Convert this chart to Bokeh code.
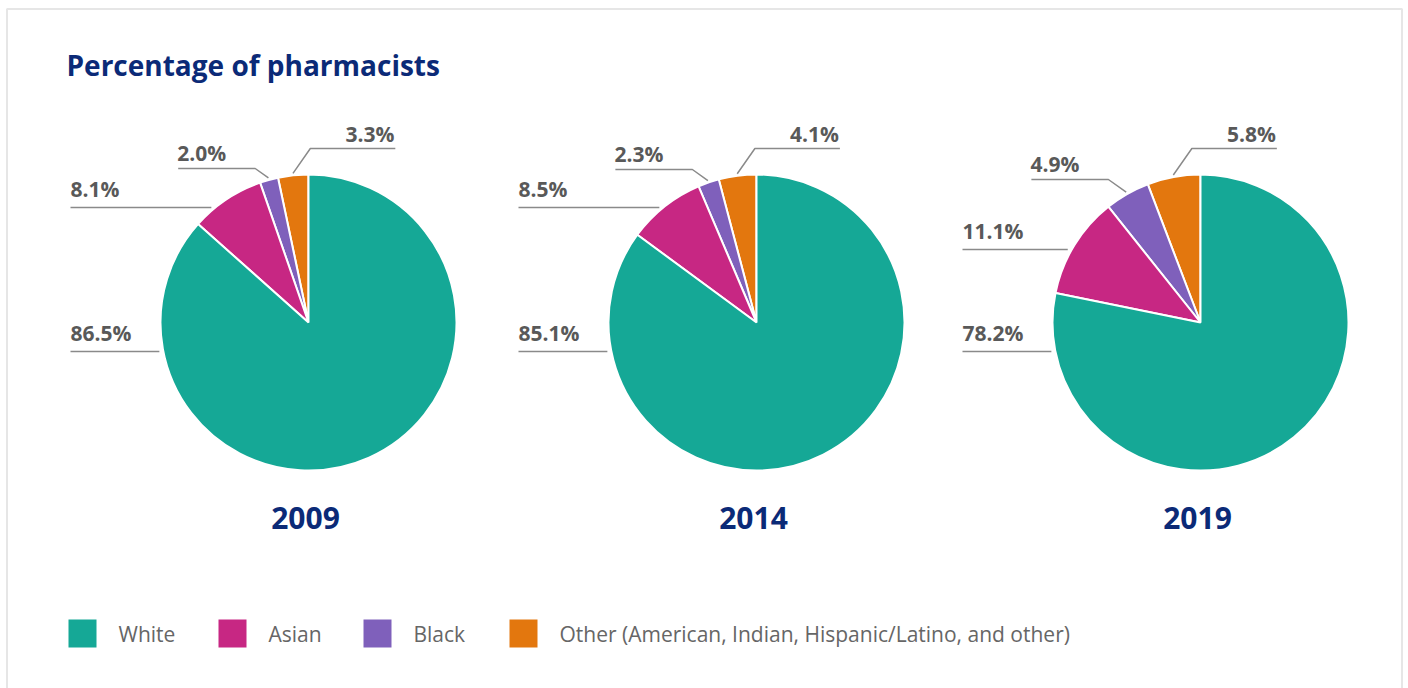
import math
from bokeh.plotting import figure
from bokeh.models import Range1d, ColumnDataSource
from bokeh.core.properties import value
from bokeh.embed import file_html
from bokeh.resources import INLINE

# ---------------- data ----------------
years = ["2009", "2014", "2019"]
categories = ["White", "Asian", "Black",
              "Other (American, Indian, Hispanic/Latino, and other)"]
white = [86.5, 85.1, 78.2]
asian = [8.1, 8.5, 11.1]
black = [2.0, 2.3, 4.9]
other = [3.3, 4.1, 5.8]
colors = {"White": "#15a896", "Asian": "#c72783", "Black": "#7f60bb", "Other": "#e3770e"}

# ---------------- layout ----------------
W, H = 1408, 688
FONT = "Open Sans"
NAVY = "#0b2a77"
LABEL_COLOR = "#595959"
LEADER = "#8a8a8a"
centers_x = [308, 756, 1200]
center_y = 322
R = 148
# y offsets (px, downwards from centre) of the label lines
line_y_other = [-174, -174, -174]
line_y_black = [-154, -153, -143]
line_y_asian = [-115, -115, -73]
line_y_white = [29, 29, 29]
left_x = -238
label_gap = 19   # distance from line up to the middle of the label text

def Y(py):
    return H - py

p = figure(width=W, height=H, x_range=Range1d(0, W), y_range=Range1d(0, H),
           output_backend="svg", toolbar_location=None, min_border=0,
           background_fill_color="white", border_fill_color="white")
p.axis.visible = False
p.grid.visible = False
p.outline_line_color = None

# card border
p.quad(left=[6.5], right=[1401.5], top=[Y(8.5)], bottom=[-10],
       fill_color=None, line_color="#e6e6e6", line_width=2)

# title
p.text(x=[66], y=[Y(64)], text=["Percentage of pharmacists"],
       text_font=value(FONT), text_font_style="bold", text_font_size="28px",
       text_color=NAVY, text_baseline="middle", text_align="left")

lx, ly = [], []
tx, ty, tt, ta = [], [], [], []

for i, yr in enumerate(years):
    cx = centers_x[i]
    vals = {"Other": other[i], "Black": black[i], "Asian": asian[i], "White": white[i]}
    order = ["Other", "Black", "Asian", "White"]
    total = sum(vals.values())
    start = math.pi / 2
    starts, ends, cols = [], [], []
    mids = {}
    for k in order:
        a = 2 * math.pi * vals[k] / total
        starts.append(start)
        ends.append(start + a)
        cols.append(colors[k])
        mids[k] = start + a / 2
        start += a
    src = ColumnDataSource(dict(x=[cx] * 4, y=[Y(center_y)] * 4,
                                s=starts, e=ends, c=cols))
    p.wedge(x="x", y="y", radius=R, start_angle="s", end_angle="e",
            direction="anticlock", fill_color="c", line_color="white",
            line_width=2, source=src)

    # Other: leader to the right
    m = mids["Other"]
    ax, ay = (R + 2) * math.cos(m), -(R + 2) * math.sin(m)
    lyo = line_y_other[i]
    ex = ax + 0.7 * (ay - lyo)
    lx.append([cx + ax, cx + ex, cx + ex + 85])
    ly.append([Y(center_y + ay), Y(center_y + lyo), Y(center_y + lyo)])
    tx.append(cx + ex + 84); ty.append(Y(center_y + lyo - 15))
    tt.append(f"{other[i]:.1f}%"); ta.append("right")

    # Black: leader to the left with elbow
    m = mids["Black"]
    ax, ay = (R + 2) * math.cos(m), -(R + 2) * math.sin(m)
    lyb = line_y_black[i]
    ex = ax - 1.4 * (ay - lyb)
    lx.append([cx + ax, cx + ex, cx + ex - 77])
    ly.append([Y(center_y + ay), Y(center_y + lyb), Y(center_y + lyb)])
    tx.append(cx + ex - 78); ty.append(Y(center_y + lyb - 16))
    tt.append(f"{black[i]:.1f}%"); ta.append("left")

    # Asian and White: straight horizontal leaders
    for lyv, v in ((line_y_asian[i], asian[i]), (line_y_white[i], white[i])):
        edge = -math.sqrt(R * R - lyv * lyv) - 4
        lx.append([cx + edge, cx + left_x])
        ly.append([Y(center_y + lyv), Y(center_y + lyv)])
        tx.append(cx + left_x); ty.append(Y(center_y + lyv - label_gap))
        tt.append(f"{v:.1f}%"); ta.append("left")

    # year label
    p.text(x=[cx - 3], y=[Y(517)], text=[yr], text_font=value(FONT),
           text_font_style="bold", text_font_size="30px", text_color=NAVY,
           text_align="center", text_baseline="middle")

p.multi_line(xs=lx, ys=ly, line_color=LEADER, line_width=1.5)
p.text(x="x", y="y", text="t", text_align="a",
       source=ColumnDataSource(dict(x=tx, y=ty, t=tt, a=ta)),
       text_font=value(FONT), text_font_style="bold", text_font_size="21px",
       text_color=LABEL_COLOR, text_baseline="middle")

# legend
legend_x = [68, 218, 363, 509]
legend_keys = ["White", "Asian", "Black", "Other"]
p.rect(x=[x + 14 for x in legend_x], y=[Y(633)] * 4, width=28, height=28,
       fill_color=[colors[k] for k in legend_keys], line_color=None)
p.text(x=[x + 50 for x in legend_x], y=[Y(633)] * 4, text=categories,
       text_font=value(FONT), text_font_size="21px", text_color="#666666",
       text_baseline="middle", text_align="left")

open("out.html", "w").write(file_html(p, INLINE))
